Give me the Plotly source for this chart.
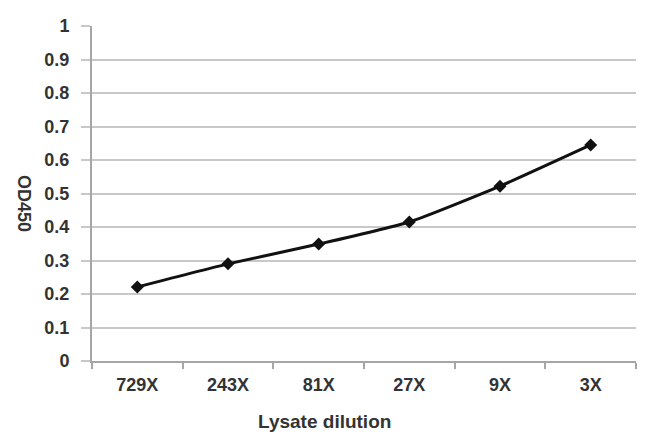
import plotly.graph_objects as go

categories = ["729X", "243X", "81X", "27X", "9X", "3X"]
od450 = [0.221, 0.290, 0.349, 0.415, 0.522, 0.645]
y_ticks = [0, 0.1, 0.2, 0.3, 0.4, 0.5, 0.6, 0.7, 0.8, 0.9, 1]
y_tick_text = ["0", "0.1", "0.2", "0.3", "0.4", "0.5", "0.6", "0.7", "0.8", "0.9", "1"]

W, H = 650, 448
L, R, T, B = 92, 14, 26, 87
PW, PH = W - L - R, H - T - B

FONT = "Liberation Sans, Arial, sans-serif"
tick_font = dict(family=FONT, size=18, color="#333333", weight="bold")

fig = go.Figure()
fig.add_trace(go.Scatter(
    x=categories, y=od450, mode="lines+markers",
    line=dict(color="#111111", width=3, shape="spline", smoothing=0.5),
    marker=dict(symbol="diamond", size=10, color="#111111"),
    showlegend=False,
))

fig.update_layout(
    width=W, height=H,
    margin=dict(l=L, r=R, t=T, b=B),
    paper_bgcolor="white", plot_bgcolor="white",
    xaxis=dict(
        type="category", showgrid=False, showline=True, linecolor="#a6a6a6", linewidth=2,
        ticks="outside", tickson="boundaries", ticklen=6, tickcolor="#a6a6a6", tickwidth=2,
        ticklabelstandoff=6,
        tickfont=tick_font, range=[-0.5, 5.5],
    ),
    yaxis=dict(
        range=[0, 1], tickvals=y_ticks, ticktext=y_tick_text,
        showgrid=True, gridcolor="#c8c8c8", gridwidth=2,
        showline=True, linecolor="#a6a6a6", linewidth=2,
        ticks="outside", ticklen=9, tickcolor="#c8c8c8", tickwidth=2,
        ticklabelstandoff=8,
        tickfont=tick_font, zeroline=False,
    ),
    annotations=[
        dict(text="Lysate dilution", xref="paper", yref="paper",
             x=(324 - L) / PW, y=-(421 - (H - B)) / PH,
             xanchor="center", yanchor="middle", showarrow=False,
             font=dict(family=FONT, size=19, color="#333333", weight="bold")),
        dict(text="OD450", xref="paper", yref="paper", textangle=90,
             x=-(L - 24) / PW, y=(H - B - 203) / PH,
             xanchor="center", yanchor="middle", showarrow=False,
             font=dict(family=FONT, size=18, color="#333333", weight="bold")),
    ],
)

fig.write_html(
    "out.html",
    config={"displayModeBar": False},
    post_script="document.body.style.margin='0';document.body.style.padding='0';",
)
